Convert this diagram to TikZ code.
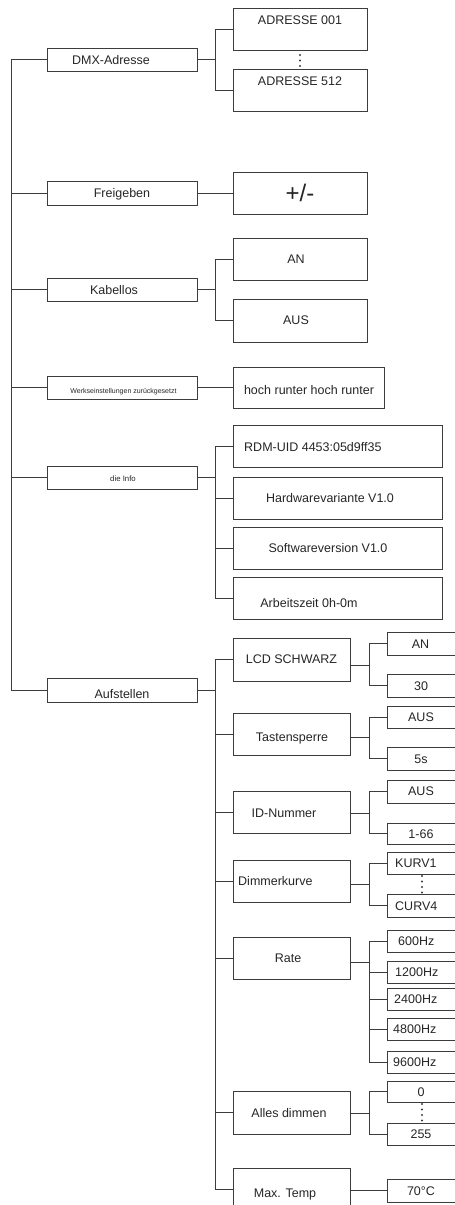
\documentclass[tikz,border=0pt]{standalone}
\usepackage{fontspec}
\setmainfont{Liberation Sans}
\definecolor{ink}{HTML}{3C3C3C}
\definecolor{textink}{HTML}{252525}
\tikzset{
  box/.style={draw=ink, line width=0.95pt, inner sep=0pt, outer sep=0pt},
  txt/.style={inner sep=0pt, text=textink, font=\fontsize{12.5}{14}\selectfont, text height=9pt, text depth=0pt},
  tinytxt/.style={inner sep=0pt, text=textink, font=\fontsize{7}{8}\selectfont, text height=5pt, text depth=0pt},
  smalltxt/.style={inner sep=0pt, text=textink, font=\fontsize{7.8}{9}\selectfont, text height=5.6pt, text depth=0pt},
  bigtxt/.style={inner sep=0pt, text=textink, font=\fontsize{24}{26}\selectfont},
  wire/.style={draw=ink, line width=0.95pt},
  dotmark/.style={fill=ink},
}
\newcommand\bx[5]{\node[box, minimum width={(#4)-(#2)}, minimum height={(#5)-(#3)}] (#1) at ({((#2)+(#4))/2},{((#3)+(#5))/2}) {};}
\begin{document}
\begin{tikzpicture}[x=1pt,y=-1pt]
\useasboundingbox (0,0) rectangle (455,1205);
\clip (0,0) rectangle (455,1205);
% level 1
\bx{dmx}{47}{48}{197}{71}
\bx{frei}{47}{181}{197}{205}
\bx{kab}{47}{278}{197}{301}
\bx{werk}{47}{376}{197}{399}
\bx{info}{47}{466}{197}{489}
\bx{auf}{47}{678}{197}{702}
\node[txt] (t-dmx) at (111,59.5) {DMX-Adresse};
\node[txt] (t-frei) at (122,193) {Freigeben};
\node[txt] (t-kab) at (114,289.5) {Kabellos};
\node[tinytxt] (t-werk) at (123.5,391) {Werkseinstellungen zurückgesetzt};
\node[smalltxt] (t-info) at (123,478.5) {die Info};
\node[txt] (t-auf) at (122,694) {Aufstellen};
% level 2
\bx{a1}{233}{8}{367}{50}
\bx{a512}{233}{69}{367}{111}
\bx{pm}{233}{172}{367}{214}
\bx{an}{233}{238}{367}{280}
\bx{aus}{233}{299}{367}{342}
\bx{hoch}{233}{367}{384}{408}
\bx{rdm}{233}{425}{442}{467}
\bx{hw}{233}{477}{442}{519}
\bx{sw}{233}{527}{442}{569}
\bx{az}{233}{577}{442}{619}
\node[txt] (t-a1) at (300,20) {ADRESSE 001};
\node[txt] (t-a512) at (300,81) {ADRESSE 512};
\node[bigtxt] (t-pm) at (300,193) {+/-};
\node[txt] (t-an) at (296,259) {AN};
\node[txt] (t-aus) at (296,320) {AUS};
\node[txt] (t-hoch) at (309,390) {hoch runter hoch runter};
\node[txt, anchor=west] (t-rdm) at (244,447) {RDM-UID 4453:05d9ff35};
\node[txt] (t-hw) at (330,498) {Hardwarevariante V1.0};
\node[txt] (t-sw) at (328,548) {Softwareversion V1.0};
\node[txt] (t-az) at (309,603) {Arbeitszeit 0h-0m};
% Aufstellen children
\bx{lcd}{233}{638}{350}{681}
\bx{tast}{233}{713}{350}{755}
\bx{idn}{233}{791}{350}{833}
\bx{dim}{233}{860}{350}{902}
\bx{rate}{233}{937}{350}{979}
\bx{all}{233}{1091}{350}{1134}
\bx{max}{233}{1168}{350}{1210}
\node[txt] (t-lcd) at (291.5,659) {LCD SCHWARZ};
\node[txt] (t-tast) at (292,737) {Tastensperre};
\node[txt] (t-idn) at (284,813) {ID-Nummer};
\node[txt, anchor=west] (t-dim) at (238,881) {Dimmerkurve};
\node[txt] (t-rate) at (288,958) {Rate};
\node[txt] (t-all) at (289,1113) {Alles dimmen};
\node[txt] (t-max) at (285,1193) {Max. Temp};
% level 3
\bx{lan}{387}{632}{457}{655}
\bx{l30}{387}{674}{457}{697}
\bx{taus}{387}{706}{457}{728}
\bx{t5s}{387}{747}{457}{770}
\bx{iaus}{387}{780}{457}{803}
\bx{i166}{387}{823}{457}{844}
\bx{kurv1}{387}{852}{457}{874}
\bx{curv4}{387}{894}{457}{917}
\bx{h600}{387}{930}{457}{952}
\bx{h1200}{387}{961}{457}{983}
\bx{h2400}{387}{988}{457}{1010}
\bx{h4800}{387}{1018}{457}{1040}
\bx{h9600}{387}{1051}{457}{1073}
\bx{d0}{387}{1081}{457}{1102}
\bx{d255}{387}{1123}{457}{1145}
\bx{t70}{387}{1179}{457}{1202}
\node[txt] (t-lan) at (420.5,644) {AN};
\node[txt] (t-l30) at (421,686) {30};
\node[txt] (t-taus) at (421,717) {AUS};
\node[txt] (t-t5s) at (421,759) {5s};
\node[txt] (t-iaus) at (421,791) {AUS};
\node[txt] (t-i166) at (421,833.5) {1-66};
\node[txt, anchor=west] (t-kurv1) at (395,863) {KURV1};
\node[txt, anchor=west] (t-curv4) at (395,905.5) {CURV4};
\node[txt, anchor=west] (t-h600) at (398,941) {600Hz};
\node[txt, anchor=west] (t-h1200) at (395,972) {1200Hz};
\node[txt, anchor=west] (t-h2400) at (394,999) {2400Hz};
\node[txt, anchor=west] (t-h4800) at (393,1029) {4800Hz};
\node[txt, anchor=west] (t-h9600) at (393,1062) {9600Hz};
\node[txt] (t-d0) at (421,1091.5) {0};
\node[txt] (t-d255) at (421,1134) {255};
\node[txt] (t-t70) at (421,1190.5) {70°C};
% trunk
\coordinate (trunk) at (11,59.5);
\foreach \n in {dmx,frei,kab,werk,info,auf} \draw[wire] (trunk) |- (\n.west);
% level 1 -> level 2
\coordinate (dmxj) at (215,59.5);
\draw[wire] (dmx.east) -- (dmxj);
\draw[wire] (dmxj) |- (a1.west);
\draw[wire] (dmxj) |- (a512.west);
\draw[wire] (frei.east) -- (pm.west);
\coordinate (kabj) at (215,289.5);
\draw[wire] (kab.east) -- (kabj);
\draw[wire] (kabj) |- (an.west);
\draw[wire] (kabj) |- (aus.west);
\draw[wire] (werk.east) -- (hoch.west);
\coordinate (infoj) at (215,477.5);
\draw[wire] (info.east) -- (infoj);
\foreach \n in {rdm,hw,sw,az} \draw[wire] (infoj) |- (\n.west);
\coordinate (aufj) at (215,690);
\draw[wire] (auf.east) -- (aufj);
\foreach \n in {lcd,tast,idn,dim,rate,all,max} \draw[wire] (aufj) |- (\n.west);
% level 2 -> level 3
\coordinate (lcdj) at (369,665);
\draw[wire] (lcd.east |- lcdj) -- (lcdj);
\draw[wire] (lcdj) |- (lan.west);
\draw[wire] (lcdj) |- (l30.west);
\coordinate (tastj) at (369,737);
\draw[wire] (tast.east |- tastj) -- (tastj);
\draw[wire] (tastj) |- (taus.west);
\draw[wire] (tastj) |- (t5s.west);
\coordinate (idj) at (369,813);
\draw[wire] (idn.east |- idj) -- (idj);
\draw[wire] (idj) |- (iaus.west);
\draw[wire] (idj) |- (i166.west);
\coordinate (dimj) at (369,884);
\draw[wire] (dim.east |- dimj) -- (dimj);
\draw[wire] (dimj) |- (kurv1.west);
\draw[wire] (dimj) |- (curv4.west);
\coordinate (ratej) at (369,962);
\draw[wire] (rate.east |- ratej) -- (ratej);
\foreach \n in {h600,h1200,h2400,h4800,h9600} \draw[wire] (ratej) |- (\n.west);
\coordinate (allj) at (369,1113);
\draw[wire] (all.east |- allj) -- (allj);
\draw[wire] (allj) |- (d0.west);
\draw[wire] (allj) |- (d255.west);
\draw[wire] (max.east |- t70.west) -- (t70.west);
% ellipsis dots
\foreach \yy in {55,60.5,66} \fill[dotmark] (300,\yy) circle (1.1);
\foreach \yy in {876,881.5,887,892.5} \fill[dotmark] (422,\yy) circle (1.1);
\foreach \yy in {1104,1109.5,1115,1120.5} \fill[dotmark] (422,\yy) circle (1.1);
\end{tikzpicture}
\end{document}
